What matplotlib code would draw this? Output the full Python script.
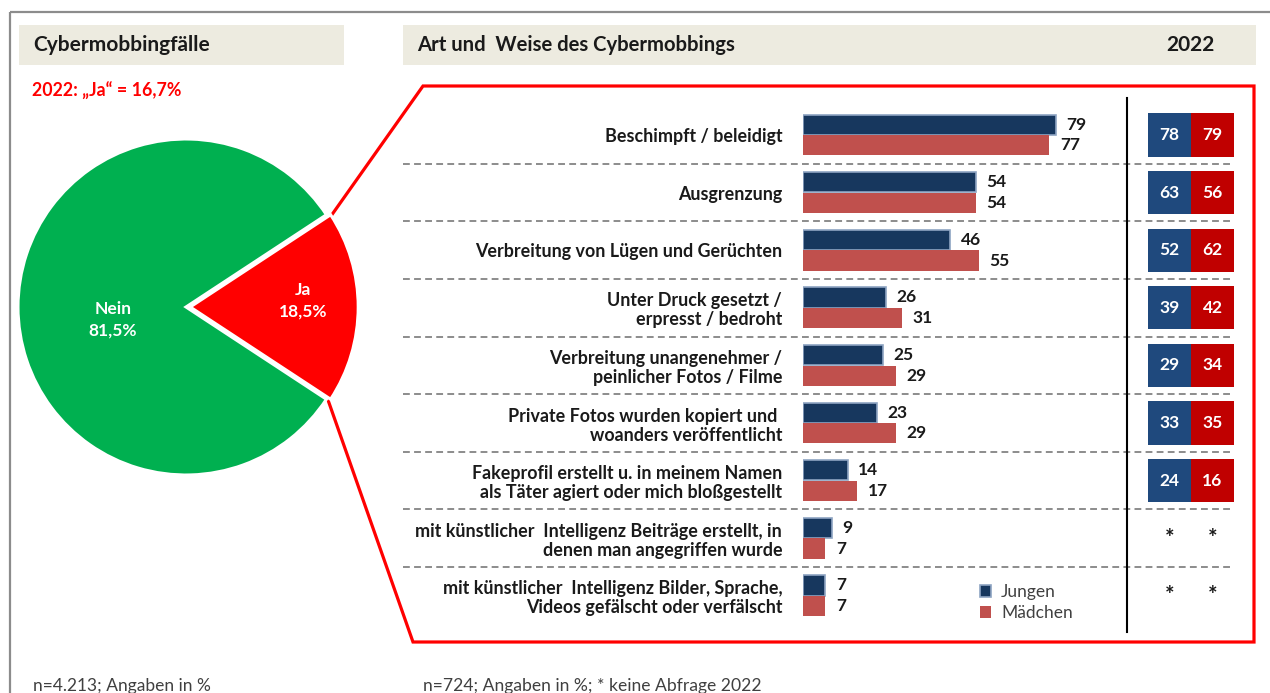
import matplotlib
matplotlib.use("Agg")
import matplotlib.pyplot as plt
from matplotlib.patches import Rectangle
import numpy as np

plt.rcParams['font.family'] = ['Lato', 'DejaVu Sans']

# --- data ---
pie_labels = ['Nein', 'Ja']
pie_values = [81.5, 18.5]

categories = [
    'Beschimpft / beleidigt',
    'Ausgrenzung',
    'Verbreitung von Lügen und Gerüchten',
    'Unter Druck gesetzt /\nerpresst / bedroht',
    'Verbreitung unangenehmer /\npeinlicher Fotos / Filme',
    'Private Fotos wurden kopiert und \nwoanders veröffentlicht',
    'Fakeprofil erstellt u. in meinem Namen\nals Täter agiert oder mich bloßgestellt',
    'mit künstlicher  Intelligenz Beiträge erstellt, in\ndenen man angegriffen wurde',
    'mit künstlicher  Intelligenz Bilder, Sprache,\nVideos gefälscht oder verfälscht',
]
jungen = [79, 54, 46, 26, 25, 23, 14, 9, 7]
maedchen = [77, 54, 55, 31, 29, 29, 17, 7, 7]
jungen_2022 = [78, 63, 52, 39, 29, 33, 24, None, None]
maedchen_2022 = [79, 56, 62, 42, 34, 35, 16, None, None]

# --- colours ---
GREEN = '#00B050'
RED = '#FF0000'
NAVY = '#17375E'
NAVY_EDGE = '#8EA4C2'
ROSE = '#C0504D'
BOX_BLUE = '#1F497D'
BOX_RED = '#C00000'
HEAD_BG = '#EDEBE0'
TXT = '#1A1A1A'
GREY_TXT = '#404040'

W, H = 1270, 693
fig = plt.figure(figsize=(W / 100, H / 100), dpi=100)


def px_axes(x0, y0, x1, y1):
    ax = fig.add_axes([x0 / W, 1 - y1 / H, (x1 - x0) / W, (y1 - y0) / H])
    ax.set_facecolor('none')
    return ax


# background layer in pixel coordinates
bg = fig.add_axes([0, 0, 1, 1])
bg.set_xlim(0, W)
bg.set_ylim(H, 0)
bg.axis('off')

bg.plot([10, W], [12, 12], color='#8C8C8C', lw=1.6, solid_capstyle='butt')
bg.plot([10, 10], [12, H], color='#8C8C8C', lw=1.6, solid_capstyle='butt')

bg.add_patch(Rectangle((19, 25), 325, 40, color=HEAD_BG, lw=0))
bg.add_patch(Rectangle((403, 25), 853, 40, color=HEAD_BG, lw=0))
bg.text(33, 45, 'Cybermobbingfälle', fontsize=15, fontweight='bold',
        color=TXT, va='center')
bg.text(417, 45, 'Art und  Weise des Cybermobbings', fontsize=14.6,
        fontweight='bold', color=TXT, va='center')
bg.text(1190, 45, '2022', fontsize=15, fontweight='bold', color=TXT,
        va='center', ha='center')
bg.text(32, 91, '2022: „Ja“ = 16,7%', fontsize=12.8, fontweight='bold',
        color=RED, va='center')

bg.text(33, 686, 'n=4.213; Angaben in %', fontsize=12.5, color=GREY_TXT,
        va='center')
bg.text(423, 686, 'n=724; Angaben in %; * keine Abfrage 2022', fontsize=12.6,
        color=GREY_TXT, va='center')

# red call-out frame from the "Ja" slice
frame_x = [331, 423, 1254, 1254, 413, 328]
frame_y = [216, 86, 86, 642, 642, 400]
bg.plot(frame_x, frame_y, color=RED, lw=2.3, solid_joinstyle='miter')

# row geometry
n = len(categories)
ROW0, ROWH = 135, 57.6
top = ROW0 - ROWH / 2
bottom = ROW0 + (n - 0.5) * ROWH

for k in range(n - 1):
    y = ROW0 + (k + 0.5) * ROWH
    bg.plot([403, 1232], [y, y], color='#8C8C8C', lw=1.4, dashes=(3.5, 2.2))
bg.plot([1127, 1127], [98, 632], color='black', lw=1.5)

# --- pie ---
CX, CY, R = 186, 307, 168
ax_pie = px_axes(CX - R, CY - R, CX + R + 8, CY + R)
ax_pie.pie(pie_values, colors=[GREEN, RED], startangle=pie_values[1] * 1.8,
           explode=[0, 0.025],
           wedgeprops=dict(edgecolor='white', linewidth=2.2))
ax_pie.set_xlim(-1, 1 + 8 / R)
ax_pie.set_ylim(-1, 1)
pie_pos = [(-0.435, -0.075), (0.696, 0.036)]
for lab, val, (tx, ty) in zip(pie_labels, pie_values, pie_pos):
    ax_pie.text(tx, ty, f'{lab}\n{val:.1f}%'.replace('.', ','), color='white',
                fontsize=12.5, fontweight='bold', ha='center', va='center',
                linespacing=1.4)

# --- bars ---
ax = px_axes(803, top, 1123, bottom)
y = np.arange(n)
bj = ax.barh(y - 0.18, jungen, height=0.35, color=NAVY, edgecolor=NAVY_EDGE,
             linewidth=1.2, label='Jungen')
bm = ax.barh(y + 0.18, maedchen, height=0.35, color=ROSE, label='Mädchen')
ax.bar_label(bj, padding=7.5, fontsize=12.5, fontweight='bold', color=TXT)
ax.bar_label(bm, padding=7.5, fontsize=12.5, fontweight='bold', color=TXT)
ax.set_xlim(0, 100)
ax.set_ylim(n - 0.5, -0.5)
ax.set_xticks([])
ax.set_yticks(y)
ax.set_yticklabels(categories, fontsize=12.9, fontweight='bold', color=TXT,
                   linespacing=1.15)
ax.tick_params(axis='y', length=0, pad=15)
for s in ax.spines.values():
    s.set_visible(False)

# --- 2022 comparison boxes ---
axb = px_axes(1148, top, 1234, bottom)
axb.set_xlim(0, 2)
axb.set_ylim(n - 0.5, -0.5)
axb.axis('off')
for i, (vj, vm) in enumerate(zip(jungen_2022, maedchen_2022)):
    if vj is None:
        axb.text(0.5, i, '*', ha='center', va='center', fontsize=16,
                 fontweight='bold', color=TXT)
        axb.text(1.5, i, '*', ha='center', va='center', fontsize=16,
                 fontweight='bold', color=TXT)
        continue
    axb.barh(i, 1, left=0, height=0.75, color=BOX_BLUE)
    axb.barh(i, 1, left=1, height=0.75, color=BOX_RED)
    axb.text(0.5, i, str(vj), ha='center', va='center', fontsize=12.5,
             fontweight='bold', color='white')
    axb.text(1.5, i, str(vm), ha='center', va='center', fontsize=12.5,
             fontweight='bold', color='white')

fig.legend(handles=[bj, bm], labels=['Jungen', 'Mädchen'], loc='upper left',
           bbox_to_anchor=(980 / W, 1 - 584 / H), frameon=False, fontsize=12.5,
           handlelength=0.62, handleheight=0.62, handletextpad=0.6,
           labelspacing=0.3, borderpad=0, borderaxespad=0,
           labelcolor=GREY_TXT)

fig.savefig('out.png', dpi=100)
